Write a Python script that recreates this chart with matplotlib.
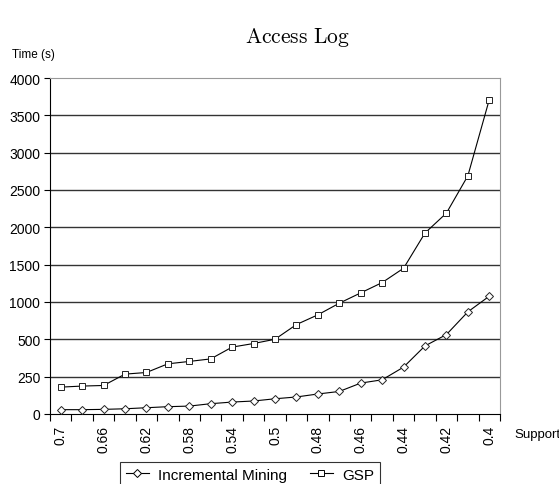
import numpy as np
import matplotlib
matplotlib.use('Agg')
import matplotlib.pyplot as plt
from matplotlib.lines import Line2D

plt.rcParams['font.family'] = 'Liberation Sans'
plt.rcParams['mathtext.fontset'] = 'cm'

support = ['0.7', '0.68', '0.66', '0.64', '0.62', '0.6', '0.58', '0.56', '0.54', '0.52', '0.5',
           '0.49', '0.48', '0.47', '0.46', '0.45', '0.44', '0.43', '0.42', '0.41', '0.4']
incremental = [29, 29, 31, 35, 42, 49, 53, 69, 80, 87, 102,
               114, 134, 151, 207, 229, 314, 456, 564, 868, 1078]
gsp = [180, 187, 191, 267, 278, 336, 352, 369, 448, 472, 501,
       698, 828, 984, 1122, 1260, 1452, 1924, 2191, 2690, 3711]
ytick_vals = [0, 250, 500, 1000, 1500, 2000, 2500, 3000, 3500, 4000]


# y axis: 0-500 stretched (250 per grid step), then 500 per grid step
def fwd(v):
    v = np.asarray(v, dtype=float)
    return np.where(v <= 500, v / 250.0, v / 500.0 + 1)


def inv(u):
    u = np.asarray(u, dtype=float)
    return np.where(u <= 2, u * 250.0, (u - 1) * 500.0)


fig = plt.figure(figsize=(5.59, 4.85), dpi=100)
ax = fig.add_axes([50 / 559, 1 - 415 / 485, 450 / 559, 336 / 485])
ax.set_yscale('function', functions=(fwd, inv))

x = np.arange(len(support))
ax.plot(x, incremental, color='black', lw=0.8, marker='D', ms=4.2,
        mfc='white', mec='#222222', mew=0.7, zorder=3)
ax.plot(x, gsp, color='black', lw=0.8, marker='s', ms=3.8,
        mfc='white', mec='#222222', mew=0.7, zorder=3)

ax.set_xlim(-0.5, len(support) - 0.5)
ax.set_ylim(0, 4000)

ax.set_yticks(ytick_vals)
ax.set_yticklabels([str(v) for v in ytick_vals], fontsize=10)
ax.yaxis.set_minor_locator(plt.NullLocator())
for v in ytick_vals[1:-1]:
    ax.axhline(v, color='#333333', lw=1.0, zorder=1)

ax.set_xticks(x[::2])
ax.set_xticklabels(support[::2], rotation=90, fontsize=10)
ax.set_xticks(np.arange(-0.5, len(support)), minor=True)
ax.tick_params(axis='x', which='major', length=0, pad=8)
ax.tick_params(axis='x', which='minor', length=5, direction='out', width=0.8)
ax.tick_params(axis='y', length=4, direction='out', width=0.8, pad=3)

ax.spines['top'].set_color('#999999')
ax.spines['right'].set_color('#999999')
ax.spines['left'].set_color('black')
ax.spines['bottom'].set_color('black')

fig.text(297 / 559, 1 - 38 / 485, r'$\mathrm{Access\ Log}$', ha='center', va='center', fontsize=15.5)
fig.text(12 / 559, 1 - 55 / 485, 'Time (s)', ha='left', va='center', fontsize=8.5)
fig.text(514 / 559, 1 - 435 / 485, 'Support', ha='left', va='center', fontsize=9.5)

handles = [Line2D([], [], color='black', lw=0.8, marker='D', ms=4, mfc='white', mew=0.7),
           Line2D([], [], color='black', lw=0.8, marker='s', ms=4, mfc='white', mew=0.7)]
leg = fig.legend(handles, ['Incremental Mining', 'GSP'], ncol=2,
                 loc='upper left', bbox_to_anchor=(112 / 559, 1 - 455 / 485),
                 frameon=True, fancybox=False, edgecolor='black', fontsize=11,
                 handlelength=1.5, columnspacing=1.5, borderpad=0.4, handletextpad=0.6)
leg.get_frame().set_linewidth(0.8)

fig.savefig('out.png', dpi=100)
